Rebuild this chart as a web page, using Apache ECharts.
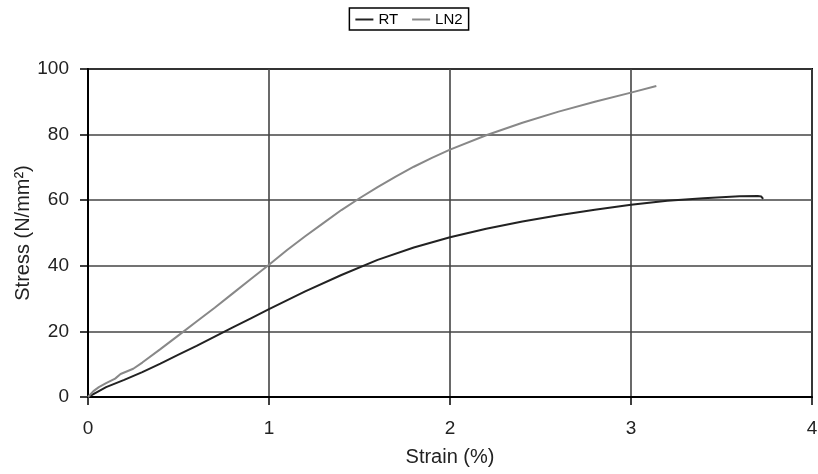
<!DOCTYPE html>
<html><head><meta charset="utf-8">
<script src="https://cdn.jsdelivr.net/npm/echarts@6/dist/echarts.min.js"></script>
<style>html,body{margin:0;padding:0;background:#fff}#c{width:818px;height:474px}</style>
</head><body><div id="c"></div>
<script>
const seriesNames = ['RT', 'LN2'];
const rtData = [[0,0],[0.05,1.5],[0.1,3],[0.2,5.2],[0.3,7.6],[0.4,10.2],[0.5,12.9],[0.6,15.6],[0.7,18.4],[0.8,21.2],[0.9,24],[1.0,26.8],[1.2,32.2],[1.4,37.2],[1.6,41.8],[1.8,45.6],[2.0,48.7],[2.2,51.3],[2.4,53.5],[2.6,55.4],[2.8,57.1],[3.0,58.6],[3.2,59.8],[3.4,60.6],[3.6,61.2],[3.7,61.3],[3.72,61.1],[3.73,60.4]];
const ln2Data = [[0,0],[0.03,1.8],[0.06,3],[0.1,4.2],[0.15,5.6],[0.18,7],[0.19,6.4],[0.25,8.6],[0.3,10.5],[0.4,14.6],[0.5,18.8],[0.6,23],[0.7,27.2],[0.8,31.6],[0.9,36],[1.0,40.3],[1.1,44.8],[1.2,49],[1.3,53],[1.4,57],[1.5,60.6],[1.6,64],[1.7,67.2],[1.8,70.2],[1.9,72.9],[2.0,75.4],[2.2,79.8],[2.4,83.6],[2.6,87],[2.8,90],[3.0,92.8],[3.14,94.8]];
const xAxisName = 'Strain (%)';
const yAxisName = 'Stress (N/mm²)';

const font = 'Liberation Sans, Arial, sans-serif';
const chart = echarts.init(document.getElementById('c'), null, {renderer: 'canvas'});
chart.setOption({
  animation: false,
  backgroundColor: '#fff',
  legend: {
    top: 8, left: 'center',
    data: seriesNames,
    itemWidth: 18, itemHeight: 2, itemGap: 14,
    icon: 'rect',
    borderColor: '#000', borderWidth: 1.5, padding: [4, 6, 3, 6],
    textStyle: {fontFamily: font, fontSize: 15, color: '#000'}
  },
  grid: {left: 88, right: 6, top: 69, bottom: 77, show: true, borderColor: '#000', borderWidth: 2,
         containLabel: false, outerBoundsMode: 'none'},
  xAxis: {
    type: 'value', min: 0, max: 4, interval: 1,
    name: xAxisName, nameLocation: 'middle', nameGap: 50, nameMoveOverlap: false,
    nameTextStyle: {fontFamily: font, fontSize: 20, color: '#222'},
    axisLine: {show: true, onZero: false, lineStyle: {color: '#000', width: 2}},
    axisTick: {show: true, inside: false, length: 8, lineStyle: {color: '#000', width: 1.5}},
    axisLabel: {fontFamily: font, fontSize: 19, color: '#222', margin: 22},
    splitLine: {show: true, lineStyle: {color: '#444', width: 1.6}}
  },
  yAxis: {
    type: 'value', min: 0, max: 100, interval: 20,
    name: yAxisName, nameLocation: 'middle', nameGap: 55, nameRotate: 90, nameMoveOverlap: false,
    nameTextStyle: {fontFamily: font, fontSize: 20, color: '#222'},
    axisLine: {show: true, onZero: false, lineStyle: {color: '#000', width: 2}},
    axisTick: {show: true, inside: false, length: 8, lineStyle: {color: '#000', width: 1.5}},
    axisLabel: {fontFamily: font, fontSize: 19, color: '#222', margin: 19},
    splitLine: {show: true, lineStyle: {color: '#444', width: 1.6}}
  },
  series: [
    {name: seriesNames[0], type: 'line', data: rtData, showSymbol: false, smooth: false,
     lineStyle: {color: '#222', width: 2}, itemStyle: {color: '#222'}},
    {name: seriesNames[1], type: 'line', data: ln2Data, showSymbol: false, smooth: false,
     lineStyle: {color: '#888', width: 2}, itemStyle: {color: '#888'}}
  ]
});
</script></body></html>
